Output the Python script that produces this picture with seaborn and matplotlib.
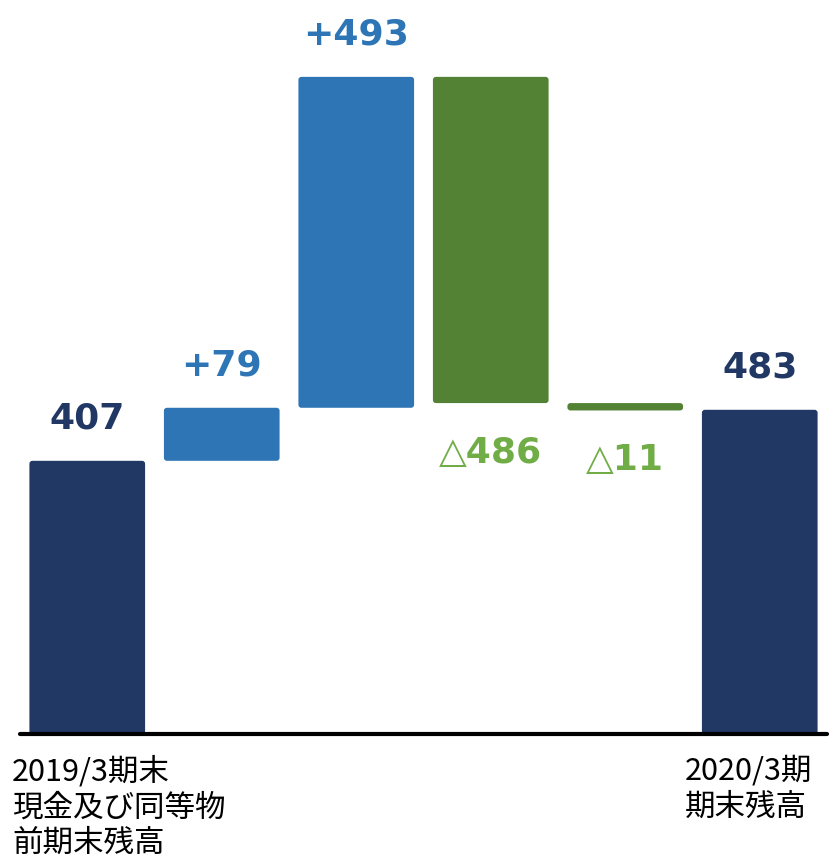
import numpy as np
import pandas as pd
import matplotlib
matplotlib.use('Agg')
import matplotlib.pyplot as plt
from matplotlib.patches import FancyBboxPatch
import seaborn as sns

# chart data
categories = ['2019/3期末\n現金及び同等物\n前期末残高', '', '', '', '', '2020/3期\n期末残高']
changes = [407, 79, 493, -486, -11, 483]
kinds = ['total', 'up', 'up', 'down', 'down', 'total']
value_labels = ['407', '+79', '+493', '△486', '△11', '483']

bar_colors = {'total': '#213864', 'up': '#2E75B6', 'down': '#548235'}
text_colors = {'total': '#213864', 'up': '#2E75B6', 'down': '#70AD47'}

# waterfall bottoms / tops
bottoms, tops = [], []
run = 0
for d, k in zip(changes, kinds):
    if k == 'total':
        bottoms.append(0)
        tops.append(d)
        run = d
    else:
        bottoms.append(min(run, run + d))
        tops.append(max(run, run + d))
        run = run + d

df = pd.DataFrame({'pos': range(len(changes)), 'top': tops, 'kind': kinds})

sns.set_style('white')
plt.rcParams['font.family'] = ['Noto Sans CJK JP', 'DejaVu Sans']

fig = plt.figure(figsize=(8.34, 8.62), dpi=100)
ax = fig.add_axes([20 / 834, 1 - 735 / 862, 807 / 834, 735 / 862])

sns.barplot(data=df, x='pos', y='top', hue='kind', palette=bar_colors,
            width=0.86, dodge=False, legend=False, saturation=1, ax=ax)

ax.set_xlim(-0.5, 5.5)
ax.set_ylim(0, 1095)

# move each bar to its waterfall bottom and swap in a lightly rounded box
px_x = 807 / 6.0
px_y = 735 / 1095.0
for p in list(ax.patches):
    cx = p.get_x() + p.get_width() / 2
    i = int(round(cx))
    b, t = bottoms[i], tops[i]
    w = p.get_width()
    fc = p.get_facecolor()
    p.remove()
    box = FancyBboxPatch((cx - w / 2, b), w, t - b,
                         boxstyle='round,pad=0,rounding_size=%f' % (3 / px_x),
                         mutation_aspect=px_x / px_y,
                         facecolor=fc, edgecolor='none', zorder=2)
    ax.add_patch(box)

# value labels
for i, (lab, k) in enumerate(zip(value_labels, kinds)):
    if k == 'down':
        ax.annotate(lab, (i, bottoms[i]), xytext=(0, -35), textcoords='offset points',
                    ha='center', va='center', fontsize=26, fontweight='bold',
                    color=text_colors[k], family=['DejaVu Sans'])
    else:
        ax.annotate(lab, (i, tops[i]), xytext=(0, 31), textcoords='offset points',
                    ha='center', va='center', fontsize=26, fontweight='bold',
                    color=text_colors[k], family=['DejaVu Sans'])

# baseline
ax.axhline(0, color='black', lw=3, zorder=3, clip_on=False)

# category labels under the first and last bars
for i, lab in enumerate(categories):
    if lab:
        ax.annotate(lab, (i - 0.56, 0), xytext=(0, -15), textcoords='offset points',
                    ha='left', va='top', fontsize=22, linespacing=1.2,
                    color='black', annotation_clip=False)

ax.set_xticks([])
ax.set_yticks([])
ax.set_xlabel('')
ax.set_ylabel('')
sns.despine(ax=ax, left=True, bottom=True)

fig.savefig('out.png', dpi=100)
